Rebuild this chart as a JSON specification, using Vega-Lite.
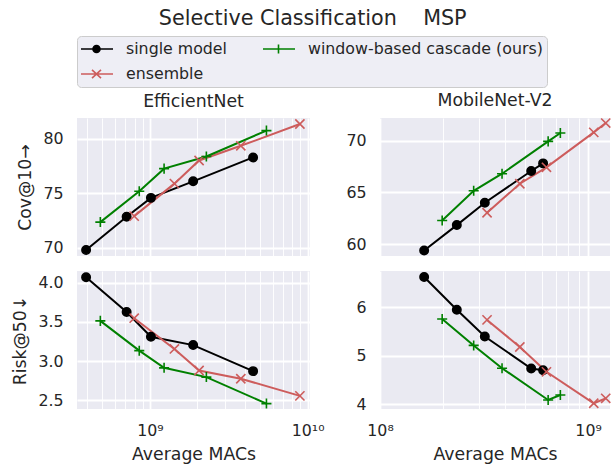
{
  "$schema": "https://vega.github.io/schema/vega-lite/v6.json",
  "padding": {"left": 11, "top": 7, "right": 0, "bottom": 0},
  "background": "white",
  "title": {"text": "Selective Classification\u00a0\u00a0\u00a0\u00a0MSP", "fontSize": 20.7, "fontWeight": "normal", "color": "#262626", "font": "DejaVu Sans", "anchor": "middle", "offset": 6},
  "data": {"values": [
    {"net": "EfficientNet", "method": "single model", "macs": 394000000, "cov": 69.78, "risk": 4.071},
    {"net": "EfficientNet", "method": "single model", "macs": 712000000, "cov": 72.84, "risk": 3.628},
    {"net": "EfficientNet", "method": "single model", "macs": 1015000000, "cov": 74.57, "risk": 3.311},
    {"net": "EfficientNet", "method": "single model", "macs": 1880000000, "cov": 76.09, "risk": 3.205},
    {"net": "EfficientNet", "method": "single model", "macs": 4510000000, "cov": 78.29, "risk": 2.873},
    {"net": "EfficientNet", "method": "ensemble", "macs": 795000000, "cov": 72.89, "risk": 3.548},
    {"net": "EfficientNet", "method": "ensemble", "macs": 1430000000, "cov": 75.88, "risk": 3.156},
    {"net": "EfficientNet", "method": "ensemble", "macs": 2050000000, "cov": 78.01, "risk": 2.881},
    {"net": "EfficientNet", "method": "ensemble", "macs": 3770000000, "cov": 79.36, "risk": 2.776},
    {"net": "EfficientNet", "method": "ensemble", "macs": 8930000000, "cov": 81.37, "risk": 2.557},
    {"net": "EfficientNet", "method": "window-based cascade (ours)", "macs": 485000000, "cov": 72.34, "risk": 3.514},
    {"net": "EfficientNet", "method": "window-based cascade (ours)", "macs": 856000000, "cov": 75.18, "risk": 3.134},
    {"net": "EfficientNet", "method": "window-based cascade (ours)", "macs": 1230000000, "cov": 77.26, "risk": 2.915},
    {"net": "EfficientNet", "method": "window-based cascade (ours)", "macs": 2280000000, "cov": 78.38, "risk": 2.797},
    {"net": "EfficientNet", "method": "window-based cascade (ours)", "macs": 5480000000, "cov": 80.76, "risk": 2.459},
    {"net": "MobileNet-V2", "method": "single model", "macs": 163000000, "cov": 59.39, "risk": 6.627},
    {"net": "MobileNet-V2", "method": "single model", "macs": 234000000, "cov": 61.84, "risk": 5.951},
    {"net": "MobileNet-V2", "method": "single model", "macs": 319000000, "cov": 64.0, "risk": 5.398},
    {"net": "MobileNet-V2", "method": "single model", "macs": 533000000, "cov": 67.07, "risk": 4.736},
    {"net": "MobileNet-V2", "method": "single model", "macs": 608000000, "cov": 67.81, "risk": 4.701},
    {"net": "MobileNet-V2", "method": "ensemble", "macs": 327000000, "cov": 63.03, "risk": 5.74},
    {"net": "MobileNet-V2", "method": "ensemble", "macs": 470000000, "cov": 65.84, "risk": 5.18},
    {"net": "MobileNet-V2", "method": "ensemble", "macs": 631000000, "cov": 67.43, "risk": 4.668},
    {"net": "MobileNet-V2", "method": "ensemble", "macs": 1065000000, "cov": 70.81, "risk": 4.018},
    {"net": "MobileNet-V2", "method": "ensemble", "macs": 1216000000, "cov": 71.71, "risk": 4.121},
    {"net": "MobileNet-V2", "method": "window-based cascade (ours)", "macs": 199000000, "cov": 62.29, "risk": 5.76},
    {"net": "MobileNet-V2", "method": "window-based cascade (ours)", "macs": 282000000, "cov": 65.16, "risk": 5.213},
    {"net": "MobileNet-V2", "method": "window-based cascade (ours)", "macs": 386000000, "cov": 66.81, "risk": 4.742},
    {"net": "MobileNet-V2", "method": "window-based cascade (ours)", "macs": 643000000, "cov": 69.94, "risk": 4.086},
    {"net": "MobileNet-V2", "method": "window-based cascade (ours)", "macs": 736000000, "cov": 70.75, "risk": 4.189}
  ]},
  "columns": 2,
  "bounds": "flush",
  "spacing": {"row": 15, "column": 70},
  "concat": [
    {
      "width": 233, "height": 138,
      "title": {"text": "EfficientNet"},
      "transform": [{"filter": "datum.net === 'EfficientNet'"}],
      "encoding": {
        "x": {"field": "macs", "type": "quantitative", "scale": {"type": "log", "domain": [345000000, 10350000000], "nice": false},
          "axis": {"values": [400000000, 500000000, 600000000, 700000000, 800000000, 900000000, 1000000000, 2000000000, 3000000000, 4000000000, 5000000000, 6000000000, 7000000000, 8000000000, 9000000000, 10000000000],
            "labels": false, "title": null,
            "gridWidth": {"condition": {"test": "datum.value === 1000000000 || datum.value === 10000000000", "value": 1.8}, "value": 0.9}}},
        "y": {"field": "cov", "type": "quantitative", "scale": {"domain": [69.22, 81.92], "nice": false, "zero": false}, "axis": {"values": [70, 75, 80], "title": "Cov@10→"}},
        "color": {"field": "method", "type": "nominal",
          "scale": {"domain": ["single model", "ensemble", "window-based cascade (ours)"], "range": ["#000000", "#CD5C5C", "#008000"]},
          "legend": {"title": null,
            "encode": {"symbols": {"update": {
              "shape": {"signal": "datum.value === 'single model' ? 'M-1.2,0H2.1M0.1,0A0.35,0.35 0 1,1 0.8,0A0.35,0.35 0 1,1 0.1,0' : datum.value === 'ensemble' ? 'M-1.2,0H2.1M0,-0.42L0.9,0.42M0,0.42L0.9,-0.42' : 'M-1.2,0H2.1M0.45,-0.45V0.45'"},
              "fill": {"signal": "datum.value === 'single model' ? '#000000' : 'transparent'"},
              "size": {"value": 400},
              "strokeWidth": {"value": 1.6},
              "opacity": {"value": 1}
            }}}}}
      },
      "layer": [
        {"mark": {"type": "line", "strokeWidth": 2}, "encoding": {}},
        {"mark": {"type": "point", "filled": false, "strokeWidth": 1.6, "size": 70, "opacity": 1},
          "encoding": {
            "shape": {"condition": [{"test": "datum.method === 'single model'", "value": "circle"}, {"test": "datum.method === 'ensemble'", "value": "M-1.1,-1.1L1.1,1.1M-1.1,1.1L1.1,-1.1"}], "value": "M-1.2,0H1.2M0,-1.2V1.2"},
            "fill": {"condition": {"test": "datum.method === 'single model'", "value": "#000000"}, "value": "transparent"}
          }}
      ]
    },
    {
      "width": 230, "height": 138,
      "title": {"text": "MobileNet-V2"},
      "transform": [{"filter": "datum.net === 'MobileNet-V2'"}],
      "encoding": {
        "x": {"field": "macs", "type": "quantitative", "scale": {"type": "log", "domain": [100000000, 1275000000], "nice": false},
          "axis": {"values": [100000000, 200000000, 300000000, 400000000, 500000000, 600000000, 700000000, 800000000, 900000000, 1000000000],
            "labels": false, "title": null,
            "gridWidth": {"condition": {"test": "datum.value === 100000000 || datum.value === 1000000000", "value": 1.8}, "value": 0.9}}},
        "y": {"field": "cov", "type": "quantitative", "scale": {"domain": [58.85, 72.2], "nice": false, "zero": false}, "axis": {"values": [60, 65, 70], "title": null}},
        "color": {"field": "method", "type": "nominal"}
      },
      "layer": [
        {"mark": {"type": "line", "strokeWidth": 2}, "encoding": {}},
        {"mark": {"type": "point", "filled": false, "strokeWidth": 1.6, "size": 70, "opacity": 1},
          "encoding": {
            "shape": {"condition": [{"test": "datum.method === 'single model'", "value": "circle"}, {"test": "datum.method === 'ensemble'", "value": "M-1.1,-1.1L1.1,1.1M-1.1,1.1L1.1,-1.1"}], "value": "M-1.2,0H1.2M0,-1.2V1.2"},
            "fill": {"condition": {"test": "datum.method === 'single model'", "value": "#000000"}, "value": "transparent"}
          }}
      ]
    },
    {
      "width": 233, "height": 138,
      "transform": [{"filter": "datum.net === 'EfficientNet'"}],
      "encoding": {
        "x": {"field": "macs", "type": "quantitative", "scale": {"type": "log", "domain": [345000000, 10350000000], "nice": false},
          "axis": {"values": [400000000, 500000000, 600000000, 700000000, 800000000, 900000000, 1000000000, 2000000000, 3000000000, 4000000000, 5000000000, 6000000000, 7000000000, 8000000000, 9000000000, 10000000000],
            "title": "Average MACs",
            "labelExpr": "datum.value === 1000000000 ? '10⁹' : datum.value === 10000000000 ? '10¹⁰' : ''",
            "gridWidth": {"condition": {"test": "datum.value === 1000000000 || datum.value === 10000000000", "value": 1.8}, "value": 0.9}}},
        "y": {"field": "risk", "type": "quantitative", "scale": {"domain": [2.39, 4.15], "nice": false, "zero": false}, "axis": {"values": [2.5, 3.0, 3.5, 4.0], "format": ".1f", "title": "Risk@50↓"}},
        "color": {"field": "method", "type": "nominal"}
      },
      "layer": [
        {"mark": {"type": "line", "strokeWidth": 2}, "encoding": {}},
        {"mark": {"type": "point", "filled": false, "strokeWidth": 1.6, "size": 70, "opacity": 1},
          "encoding": {
            "shape": {"condition": [{"test": "datum.method === 'single model'", "value": "circle"}, {"test": "datum.method === 'ensemble'", "value": "M-1.1,-1.1L1.1,1.1M-1.1,1.1L1.1,-1.1"}], "value": "M-1.2,0H1.2M0,-1.2V1.2"},
            "fill": {"condition": {"test": "datum.method === 'single model'", "value": "#000000"}, "value": "transparent"}
          }}
      ]
    },
    {
      "width": 230, "height": 138,
      "transform": [{"filter": "datum.net === 'MobileNet-V2'"}],
      "encoding": {
        "x": {"field": "macs", "type": "quantitative", "scale": {"type": "log", "domain": [100000000, 1275000000], "nice": false},
          "axis": {"values": [100000000, 200000000, 300000000, 400000000, 500000000, 600000000, 700000000, 800000000, 900000000, 1000000000],
            "title": "Average MACs",
            "labelExpr": "datum.value === 100000000 ? '10⁸' : datum.value === 1000000000 ? '10⁹' : ''",
            "gridWidth": {"condition": {"test": "datum.value === 100000000 || datum.value === 1000000000", "value": 1.8}, "value": 0.9}}},
        "y": {"field": "risk", "type": "quantitative", "scale": {"domain": [3.9, 6.75], "nice": false, "zero": false}, "axis": {"values": [4, 5, 6], "format": "d", "title": null}},
        "color": {"field": "method", "type": "nominal"}
      },
      "layer": [
        {"mark": {"type": "line", "strokeWidth": 2}, "encoding": {}},
        {"mark": {"type": "point", "filled": false, "strokeWidth": 1.6, "size": 70, "opacity": 1},
          "encoding": {
            "shape": {"condition": [{"test": "datum.method === 'single model'", "value": "circle"}, {"test": "datum.method === 'ensemble'", "value": "M-1.1,-1.1L1.1,1.1M-1.1,1.1L1.1,-1.1"}], "value": "M-1.2,0H1.2M0,-1.2V1.2"},
            "fill": {"condition": {"test": "datum.method === 'single model'", "value": "#000000"}, "value": "transparent"}
          }}
      ]
    }
  ],
  "config": {
    "font": "DejaVu Sans",
    "view": {"fill": "#EAEAF2", "stroke": null},
    "axis": {"domain": false, "ticks": false, "gridColor": "#FFFFFF", "gridWidth": 1.8, "labelFontSize": 15.8, "labelColor": "#262626", "titleFontSize": 17.3, "titleColor": "#262626", "titleFontWeight": "normal", "labelFont": "DejaVu Sans", "titleFont": "DejaVu Sans"},
    "axisX": {"labelPadding": 14, "titlePadding": 8, "labelFlush": false, "labelOverlap": false},
    "axisY": {"labelPadding": 14, "titlePadding": 8},
    "title": {"fontSize": 17.3, "fontWeight": "normal", "color": "#262626", "font": "DejaVu Sans", "offset": 6},
    "legend": {"orient": "top", "direction": "vertical", "columns": 2, "labelFontSize": 15.8, "labelColor": "#262626", "labelFont": "DejaVu Sans", "labelLimit": 400,
      "symbolSize": 400, "symbolStrokeWidth": 1.6, "labelOffset": 23, "clipHeight": 18, "rowPadding": 7, "columnPadding": 36, "padding": 4,
      "fillColor": "#EEEEF5", "strokeColor": "#CCCCCC", "cornerRadius": 4, "offset": 4}
  }
}
